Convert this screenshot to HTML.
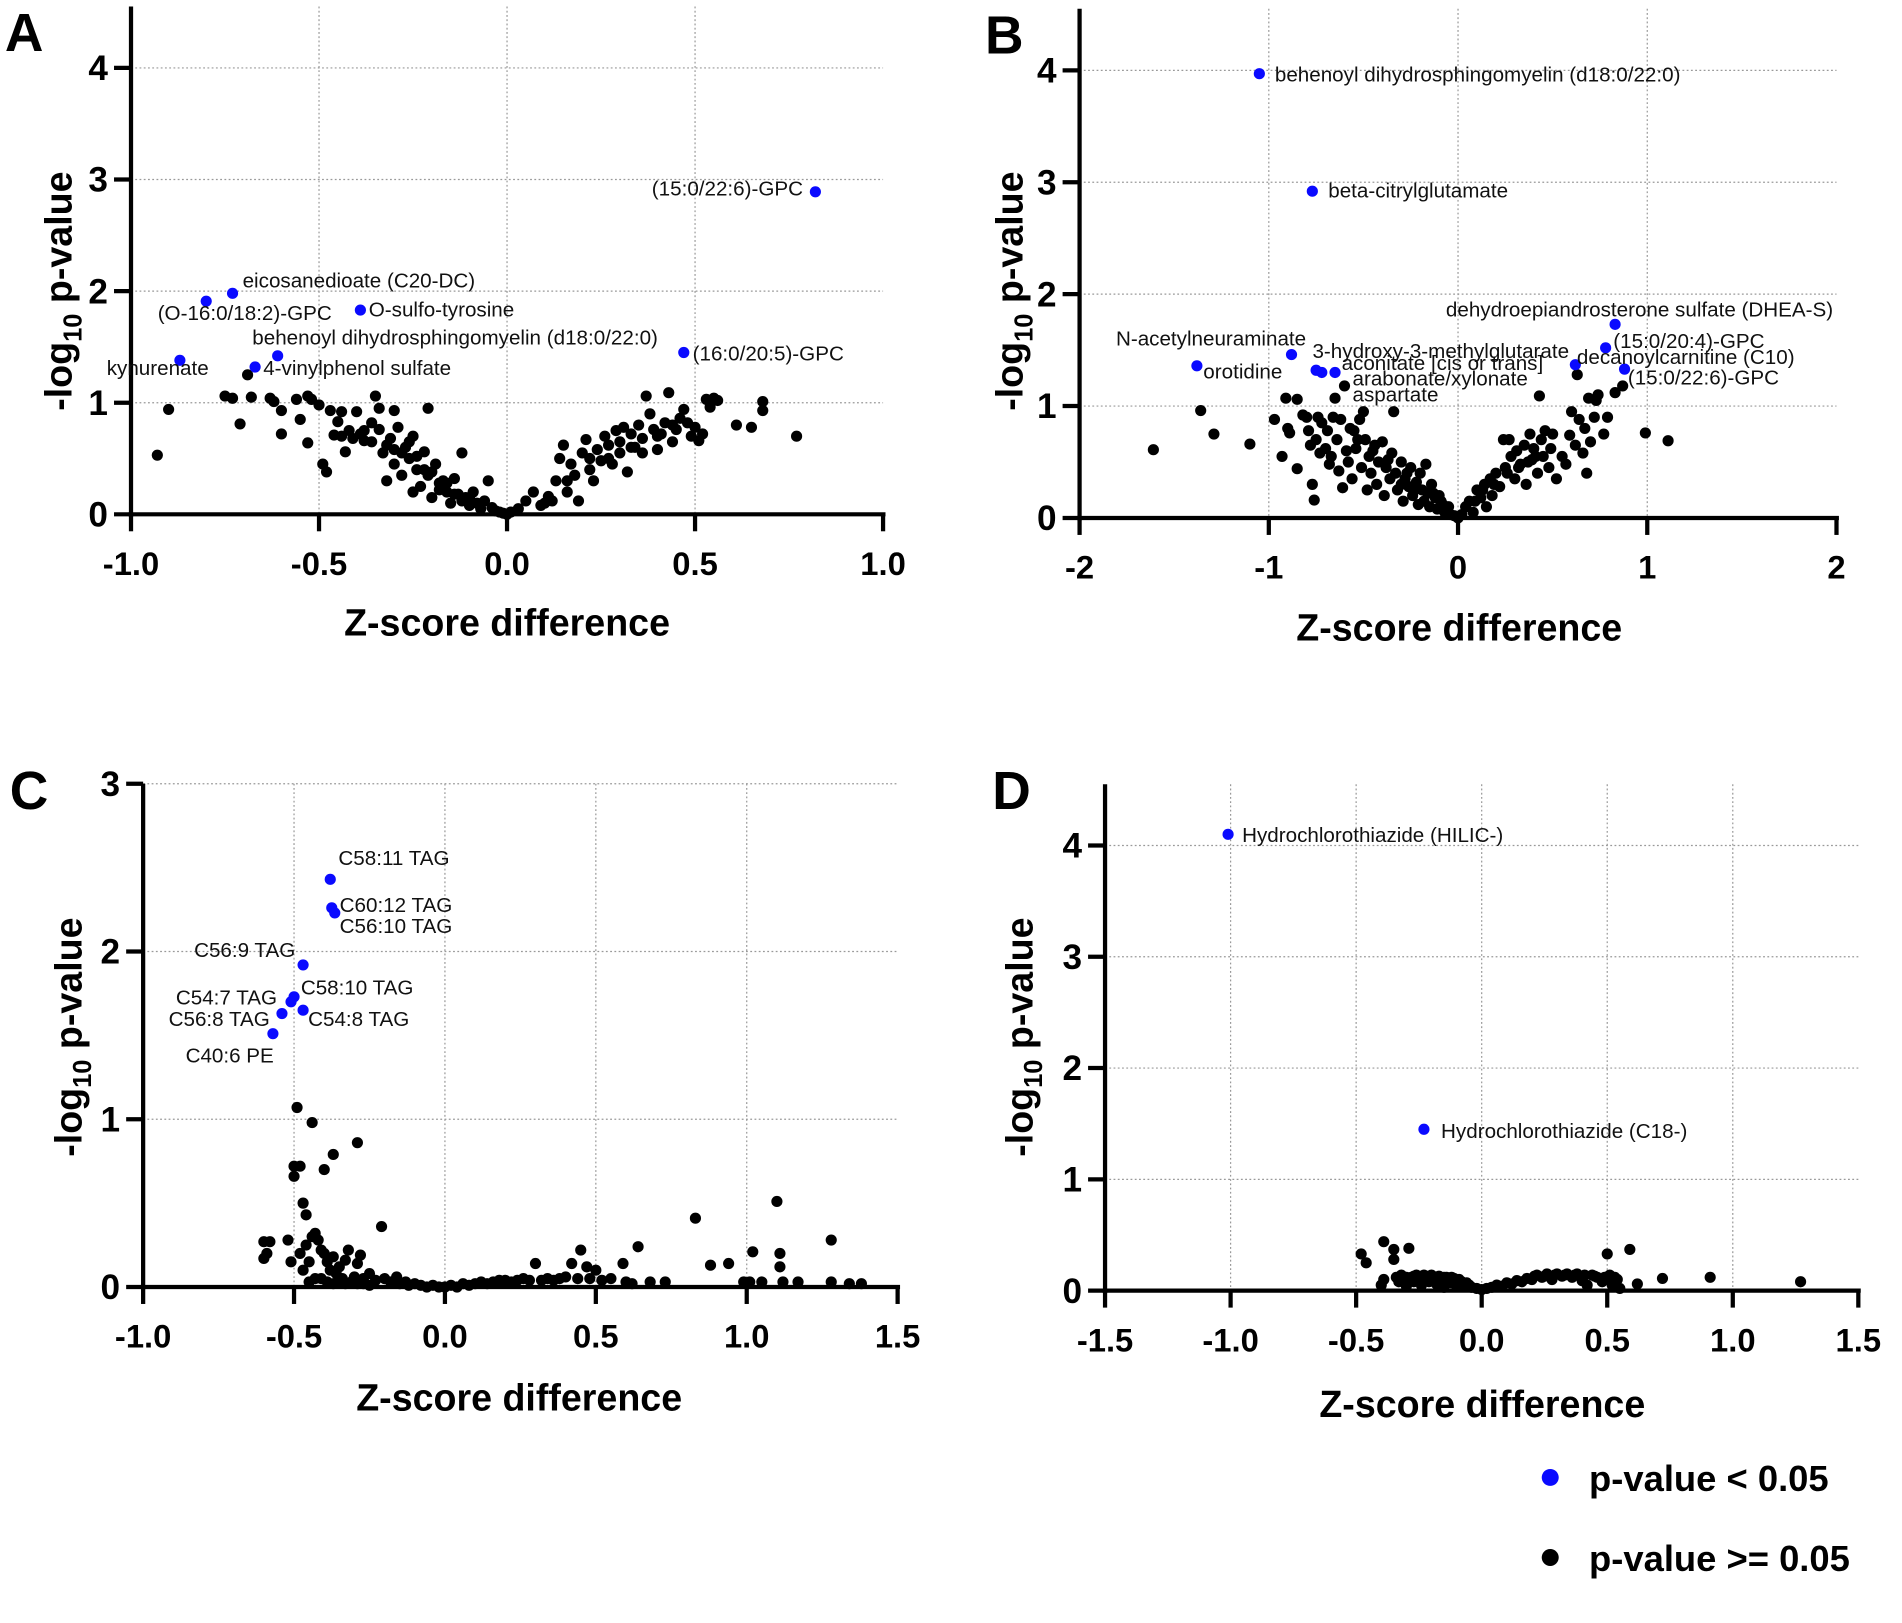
<!DOCTYPE html>
<html><head><meta charset="utf-8"><style>
html,body{margin:0;padding:0;background:#fff;}
svg{display:block;font-family:"Liberation Sans",Arial,sans-serif;}
</style></head><body>
<svg id="fig" width="1902" height="1623" viewBox="0 0 1568 1338" xmlns="http://www.w3.org/2000/svg"></svg>
<script>
// ---------- DATA ----------
const aBlueX=[0.82,-0.73,-0.80,-0.39,-0.61,0.47,-0.87,-0.67];
const aBlueY=[2.89,1.98,1.91,1.83,1.42,1.45,1.38,1.32];
const aBlueLabels=["(15:0/22:6)-GPC","eicosanedioate (C20-DC)","(O-16:0/18:2)-GPC","O-sulfo-tyrosine","behenoyl dihydrosphingomyelin (d18:0/22:0)","(16:0/20:5)-GPC","kynurenate","4-vinylphenol sulfate"];
const aBlackX=[-0.93,-0.90,-0.75,-0.73,-0.71,-0.69,-0.68,-0.63,-0.62,-0.60,-0.60,-0.56,-0.55,-0.53,-0.52,-0.53,-0.50,-0.49,-0.48,-0.47,-0.46,-0.45,-0.44,-0.43,-0.42,-0.40,-0.39,-0.38,-0.36,-0.35,-0.34,-0.34,-0.33,-0.32,-0.31,-0.30,-0.30,-0.29,-0.28,-0.27,-0.26,-0.25,-0.25,-0.24,-0.23,-0.22,-0.21,-0.21,-0.20,-0.19,-0.18,-0.17,-0.16,-0.15,-0.14,-0.13,-0.12,-0.11,-0.10,-0.09,-0.08,-0.07,-0.06,-0.05,-0.04,-0.03,-0.02,-0.01,0.0,0.01,0.03,0.05,0.07,0.09,0.11,0.13,0.14,0.15,0.16,0.17,0.18,0.19,0.20,0.21,0.22,0.23,0.24,0.25,0.26,0.27,0.28,0.29,0.30,0.31,0.32,0.33,0.34,0.35,0.36,0.37,0.38,0.39,0.40,0.41,0.42,0.43,0.44,0.45,0.46,0.47,0.48,0.49,0.50,0.51,0.52,0.53,0.54,0.55,0.56,0.61,0.65,0.68,0.68,0.77,-0.28,-0.26,-0.24,-0.22,-0.20,-0.18,-0.16,-0.14,-0.12,-0.10,-0.36,-0.38,-0.41,-0.44,-0.32,-0.30,0.10,0.12,0.16,0.22,0.27,0.30,0.33,0.36,0.40,0.44];
const aBlackY=[0.53,0.94,1.06,1.04,0.81,1.25,1.05,1.04,1.01,0.93,0.72,1.03,0.85,1.06,1.03,0.64,0.98,0.45,0.38,0.93,0.71,0.83,0.92,0.56,0.75,0.92,0.72,0.66,0.82,1.06,0.76,0.95,0.55,0.30,0.68,0.93,0.45,0.78,0.35,0.60,0.50,0.70,0.20,0.40,0.25,0.56,0.95,0.35,0.15,0.45,0.28,0.30,0.20,0.10,0.32,0.18,0.55,0.15,0.08,0.20,0.10,0.05,0.12,0.30,0.06,0.03,0.02,0.01,0.0,0.02,0.05,0.12,0.20,0.08,0.16,0.30,0.50,0.62,0.20,0.45,0.35,0.12,0.55,0.67,0.40,0.30,0.58,0.48,0.70,0.62,0.45,0.75,0.55,0.78,0.38,0.72,0.60,0.80,0.68,1.06,0.90,0.76,0.58,0.72,0.82,1.09,0.80,0.76,0.86,0.94,0.82,0.70,0.78,0.66,0.72,1.03,0.96,1.04,1.02,0.80,0.78,1.01,0.93,0.70,0.55,0.65,0.52,0.40,0.38,0.22,0.28,0.18,0.12,0.15,0.65,0.75,0.68,0.70,0.62,0.58,0.10,0.12,0.30,0.50,0.50,0.65,0.60,0.55,0.70,0.65];

const bBlueX=[-1.05,-0.77,0.83,0.78,0.62,0.88,-0.88,-1.38,-0.75,-0.72,-0.65];
const bBlueY=[3.97,2.92,1.73,1.52,1.37,1.33,1.46,1.36,1.32,1.30,1.30];
const bBlueLabels=["behenoyl dihydrosphingomyelin (d18:0/22:0)","beta-citrylglutamate","dehydroepiandrosterone sulfate (DHEA-S)","(15:0/20:4)-GPC","decanoylcarnitine (C10)","(15:0/22:6)-GPC","N-acetylneuraminate","orotidine","3-hydroxy-3-methylglutarate","aconitate [cis or trans]","arabonate/xylonate"];
const bExtraLabels=["aspartate"];
const bBlackX=[-1.61,-1.36,-1.29,-1.10,-0.97,-0.93,-0.91,-0.90,-0.89,-0.85,-0.85,-0.82,-0.80,-0.79,-0.78,-0.77,-0.76,-0.75,-0.74,-0.73,-0.72,-0.70,-0.69,-0.68,-0.67,-0.66,-0.65,-0.64,-0.63,-0.62,-0.61,-0.60,-0.59,-0.58,-0.56,-0.55,-0.54,-0.52,-0.51,-0.50,-0.49,-0.48,-0.47,-0.46,-0.44,-0.43,-0.42,-0.40,-0.39,-0.38,-0.36,-0.35,-0.34,-0.33,-0.32,-0.30,-0.29,-0.28,-0.26,-0.25,-0.24,-0.22,-0.21,-0.20,-0.19,-0.18,-0.17,-0.16,-0.15,-0.14,-0.12,-0.11,-0.10,-0.08,-0.07,-0.05,-0.04,-0.02,0.0,0.02,0.04,0.06,0.08,0.10,0.12,0.14,0.15,0.17,0.18,0.20,0.22,0.24,0.25,0.27,0.28,0.30,0.31,0.33,0.35,0.36,0.38,0.39,0.40,0.42,0.43,0.44,0.45,0.46,0.48,0.49,0.50,0.52,0.55,0.57,0.59,0.60,0.62,0.63,0.64,0.66,0.67,0.68,0.69,0.70,0.72,0.73,0.74,0.77,0.79,0.83,0.87,0.99,1.11,-0.30,-0.27,-0.23,-0.13,-0.09,0.09,0.13,0.19,0.26,0.32,0.37,0.41,-0.37,-0.45,-0.53,-0.57];
const bBlackY=[0.61,0.96,0.75,0.66,0.88,0.55,1.07,0.80,0.76,1.06,0.44,0.92,0.90,0.78,0.65,0.30,0.16,0.70,0.90,0.58,0.85,0.62,0.78,0.48,0.55,0.90,1.07,0.70,0.42,0.88,0.27,1.18,0.60,0.50,0.35,0.78,0.62,0.88,0.45,0.95,0.70,0.25,0.55,0.40,0.65,0.30,0.50,0.68,0.20,0.45,0.35,0.58,0.95,0.40,0.25,0.50,0.15,0.35,0.28,0.45,0.20,0.32,0.12,0.40,0.25,0.15,0.48,0.22,0.10,0.30,0.18,0.08,0.20,0.12,0.05,0.10,0.03,0.02,0.0,0.03,0.10,0.15,0.05,0.25,0.18,0.30,0.10,0.35,0.20,0.40,0.28,0.70,0.45,0.70,0.55,0.35,0.60,0.48,0.65,0.30,0.75,0.52,0.62,0.40,1.09,0.70,0.55,0.78,0.45,0.62,0.75,0.35,0.55,0.48,0.74,0.95,0.65,1.28,0.88,0.58,0.80,0.40,1.07,0.68,0.90,1.05,1.10,0.75,0.90,1.12,1.18,0.76,0.69,0.30,0.40,0.25,0.22,0.15,0.15,0.25,0.30,0.40,0.45,0.50,0.55,0.52,0.60,0.70,0.80];

const cBlueX=[-0.38,-0.375,-0.365,-0.47,-0.50,-0.51,-0.54,-0.47,-0.57];
const cBlueY=[2.43,2.26,2.23,1.92,1.73,1.70,1.63,1.65,1.51];
const cBlueLabels=["C58:11 TAG","C60:12 TAG","C56:10 TAG","C56:9 TAG","C58:10 TAG","C54:7 TAG","C56:8 TAG","C54:8 TAG","C40:6 PE"];
const cBlackX=[-0.49,-0.44,-0.29,-0.37,-0.50,-0.48,-0.40,-0.50,-0.47,-0.46,-0.60,-0.58,-0.60,-0.59,-0.52,-0.51,-0.48,-0.47,-0.45,-0.44,-0.43,-0.42,-0.41,-0.40,-0.39,-0.38,-0.37,-0.36,-0.35,-0.34,-0.33,-0.32,-0.30,-0.29,-0.28,-0.27,-0.25,-0.23,-0.21,-0.20,-0.18,-0.16,-0.15,-0.13,-0.12,-0.10,-0.08,-0.06,-0.04,-0.02,0.0,0.02,0.04,0.06,0.08,0.10,0.12,0.14,0.16,0.18,0.20,0.22,0.24,0.26,0.28,0.30,0.32,0.34,0.36,0.38,0.40,0.42,0.44,0.45,0.47,0.48,0.50,0.52,0.55,0.59,0.60,0.62,0.64,0.68,0.73,0.83,0.88,0.94,0.99,1.01,1.02,1.05,1.10,1.11,1.11,1.12,1.17,1.28,1.28,1.34,1.38,-0.41,-0.39,-0.37,-0.35,-0.33,-0.31,-0.29,-0.27,-0.25,-0.43,-0.45,-0.46];
const cBlackY=[1.07,0.98,0.86,0.79,0.72,0.72,0.70,0.66,0.50,0.43,0.27,0.27,0.17,0.20,0.28,0.15,0.20,0.10,0.15,0.30,0.32,0.28,0.22,0.20,0.15,0.10,0.18,0.08,0.12,0.05,0.16,0.22,0.06,0.14,0.19,0.05,0.08,0.04,0.36,0.05,0.03,0.06,0.02,0.03,0.01,0.02,0.01,0.0,0.01,0.0,0.0,0.01,0.0,0.02,0.01,0.02,0.03,0.02,0.03,0.04,0.04,0.03,0.04,0.05,0.04,0.14,0.04,0.05,0.04,0.05,0.06,0.14,0.05,0.22,0.12,0.05,0.10,0.04,0.05,0.14,0.03,0.02,0.24,0.03,0.03,0.41,0.13,0.14,0.03,0.03,0.21,0.03,0.51,0.20,0.12,0.03,0.03,0.28,0.03,0.02,0.02,0.05,0.03,0.02,0.03,0.02,0.03,0.02,0.02,0.01,0.05,0.03,0.25];

const dBlueX=[-1.01,-0.23];
const dBlueY=[4.10,1.45];
const dBlueLabels=["Hydrochlorothiazide (HILIC-)","Hydrochlorothiazide (C18-)"];
const dBlackX=[-0.48,-0.46,-0.40,-0.39,-0.39,-0.35,-0.35,-0.34,-0.33,-0.32,-0.30,-0.29,-0.28,-0.27,-0.26,-0.25,-0.24,-0.23,-0.22,-0.21,-0.20,-0.19,-0.18,-0.17,-0.16,-0.15,-0.14,-0.13,-0.12,-0.11,-0.10,-0.09,-0.08,-0.07,-0.06,-0.05,-0.04,-0.02,0.0,0.02,0.04,0.06,0.08,0.10,0.12,0.14,0.16,0.18,0.20,0.22,0.24,0.26,0.28,0.30,0.32,0.34,0.36,0.38,0.40,0.42,0.44,0.46,0.48,0.50,0.51,0.52,0.54,0.55,0.59,0.62,0.72,0.91,1.27,-0.30,-0.27,-0.24,-0.21,-0.18,-0.15,-0.12,0.21,0.25,0.29,0.33,0.37,0.41,0.45,0.49,0.53];
const dBlackY=[0.33,0.25,0.05,0.10,0.44,0.37,0.28,0.12,0.08,0.14,0.04,0.38,0.12,0.08,0.14,0.10,0.05,0.14,0.12,0.08,0.14,0.10,0.06,0.13,0.09,0.03,0.12,0.10,0.07,0.11,0.05,0.10,0.08,0.04,0.07,0.05,0.03,0.02,0.01,0.02,0.03,0.05,0.04,0.07,0.06,0.09,0.08,0.11,0.10,0.14,0.12,0.15,0.10,0.15,0.13,0.15,0.12,0.15,0.09,0.05,0.14,0.12,0.08,0.33,0.14,0.05,0.10,0.02,0.37,0.06,0.11,0.12,0.08,0.12,0.13,0.13,0.13,0.12,0.12,0.12,0.13,0.13,0.14,0.14,0.14,0.14,0.13,0.12,0.12];

const aXTicks=[-1.0,-0.5,0.0,0.5,1.0], aXTickLabels=["-1.0","-0.5","0.0","0.5","1.0"];
const aYTicks=[0,1,2,3,4];
const bXTicks=[-2,-1,0,1,2], bXTickLabels=["-2","-1","0","1","2"];
const bYTicks=[0,1,2,3,4];
const cXTicks=[-1.0,-0.5,0.0,0.5,1.0,1.5], cXTickLabels=["-1.0","-0.5","0.0","0.5","1.0","1.5"];
const cYTicks=[0,1,2,3];
const dXTicks=[-1.5,-1.0,-0.5,0.0,0.5,1.0,1.5], dXTickLabels=["-1.5","-1.0","-0.5","0.0","0.5","1.0","1.5"];
const dYTicks=[0,1,2,3,4];

// ---------- LAYOUT (pixel positions, display units) ----------
const panels=[
 {id:"a",letter:"A",lx:4,ly:42,L:108,R:728,base:424,unit:92,xmin:-1,xmax:1,ymax:4.55,
  xt:aXTicks,xl:aXTickLabels,yt:aYTicks,bx:aBlueX,by:aBlueY,bl:aBlueLabels,kx:aBlackX,ky:aBlackY,ytx:48,yty:240,xtx:418,xty:524,
  lab:[[662,161,"end"],[200,237,"start"],[130,264,"start"],[304,261,"start"],[208,284,"start"],[571,297,"start"],[88,309,"start"],[217,309,"start"]]},
 {id:"b",letter:"B",lx:812,ly:44,L:890,R:1514,base:427,unit:92.25,xmin:-2,xmax:2,ymax:4.55,
  xt:bXTicks,xl:bXTickLabels,yt:bYTicks,bx:bBlueX,by:bBlueY,bl:bBlueLabels,kx:bBlackX,ky:bBlackY,ytx:832,yty:240,xtx:1203,xty:528,
  lab:[[1051,67,"start"],[1095,163,"start"],[1192,261,"start"],[1330,287,"start"],[1300,300,"start"],[1342,317,"start"],[920,285,"start"],[992,312,"start"],[1082,295,"start"],[1106,305,"start"],[1115,318,"start"]]},
 {id:"c",letter:"C",lx:8,ly:667,L:118,R:740,base:1061,unit:138.3,xmin:-1,xmax:1.5,ymax:3,
  xt:cXTicks,xl:cXTickLabels,yt:cYTicks,bx:cBlueX,by:cBlueY,bl:cBlueLabels,kx:cBlackX,ky:cBlackY,ytx:56,yty:855,xtx:428,xty:1163,
  lab:[[279,713,"start"],[280,752,"start"],[280,769,"start"],[160,789,"start"],[248,820,"start"],[145,828,"start"],[139,846,"start"],[254,846,"start"],[153,876,"start"]]},
 {id:"d",letter:"D",lx:818,ly:667,L:911,R:1532,base:1064,unit:91.75,xmin:-1.5,xmax:1.5,ymax:4.55,
  xt:dXTicks,xl:dXTickLabels,yt:dYTicks,bx:dBlueX,by:dBlueY,bl:dBlueLabels,kx:dBlackX,ky:dBlackY,ytx:840,yty:855,xtx:1222,xty:1168,
  lab:[[1024,694,"start"],[1188,938,"start"]]}
];

const NS="http://www.w3.org/2000/svg";
const svg=document.getElementById('fig');
function mk(tag,attrs,parent,text){const e=document.createElementNS(NS,tag);for(const k in attrs)e.setAttribute(k,attrs[k]);if(text!==undefined)e.textContent=text;(parent||svg).appendChild(e);return e;}

panels.forEach(p=>{
  const g=mk('g',{});
  
  
  const sx=v=>p.L+(v-p.xmin)/(p.xmax-p.xmin)*(p.R-p.L);
  const sy=v=>p.base-v*p.unit;
  const top=sy(p.ymax);
  p.xt.forEach(v=>{ if(v===p.xmin||v===p.xmax) return;
    const l=mk('line',{x1:sx(v),x2:sx(v),y1:top,y2:p.base,stroke:'#999','stroke-width':1,'stroke-dasharray':'1.5,2'},g);
    
    });
  p.yt.forEach(v=>{ if(v===0) return;
    const l=mk('line',{x1:p.L,x2:p.R,y1:sy(v),y2:sy(v),stroke:'#999','stroke-width':1,'stroke-dasharray':'1.5,2'},g);
    
    });
  const ya=mk('line',{x1:p.L,x2:p.L,y1:top,y2:p.base+2,stroke:'#000','stroke-width':3.5},g);
  
  
  const xa=mk('line',{x1:p.L-2,x2:p.R+2,y1:p.base,y2:p.base,stroke:'#000','stroke-width':3.5},g);
  
  
  p.xt.forEach((v,i)=>{
    mk('line',{x1:sx(v),x2:sx(v),y1:p.base,y2:p.base+14,stroke:'#000','stroke-width':3.5},g);
    const t=mk('text',{x:sx(v),y:p.base+50,'text-anchor':'middle','font-size':27,'font-weight':'bold'},g,p.xl[i]);
    
    
  });
  p.yt.forEach(v=>{
    mk('line',{x1:p.L-14,x2:p.L,y1:sy(v),y2:sy(v),stroke:'#000','stroke-width':3.5},g);
    const t=mk('text',{x:p.L-19,y:sy(v)+10,'text-anchor':'end','font-size':29,'font-weight':'bold'},g,String(v));
    
    
  });
  const xt=mk('text',{x:p.xtx,y:p.xty,'text-anchor':'middle','font-size':31,'font-weight':'bold'},g,'Z-score difference');
  
  
  const yt=mk('text',{x:0,y:0,'text-anchor':'middle','font-size':31,'font-weight':'bold',transform:`translate(${p.ytx+11},${p.yty}) rotate(-90)`},g);
  
  
  mk('tspan',{},yt,'-log');
  mk('tspan',{'font-size':21,dy:8},yt,'10');
  mk('tspan',{dy:-8},yt,' p-value');
  const lt=mk('text',{x:p.lx,y:p.ly,'font-size':44,'font-weight':'bold'},g,p.letter);
  
  
  p.kx.forEach((v,i)=>{
    const c=mk('circle',{cx:sx(v),cy:sy(p.ky[i]),r:4.6,fill:'#000'},g);
    
    
  });
  p.bx.forEach((v,i)=>{
    const c=mk('circle',{cx:sx(v),cy:sy(p.by[i]),r:4.6,fill:'#0a0aff'},g);
    
    
  });
  p.bl.forEach((s,i)=>{
    const L=p.lab[i];
    const t=mk('text',{x:L[0],y:L[1],'text-anchor':L[2],'font-size':17,fill:'#111'},g,s);
    
    
  });
  if(p.id==='b'){
    const t=mk('text',{x:1115,y:331,'font-size':17,fill:'#111'},g,bExtraLabels[0]);
    
    
  }
});

const lg=mk('g',{});


const e1=mk('circle',{cx:1278,cy:1218,r:7,fill:'#0a0aff'},lg);


const t1=mk('text',{x:1310,y:1229,'font-size':30,'font-weight':'bold'},lg,'p-value < 0.05');


const e2=mk('circle',{cx:1278,cy:1284,r:7,fill:'#000'},lg);


const t2=mk('text',{x:1310,y:1295,'font-size':30,'font-weight':'bold'},lg,'p-value >= 0.05');


</script>
</body></html>
